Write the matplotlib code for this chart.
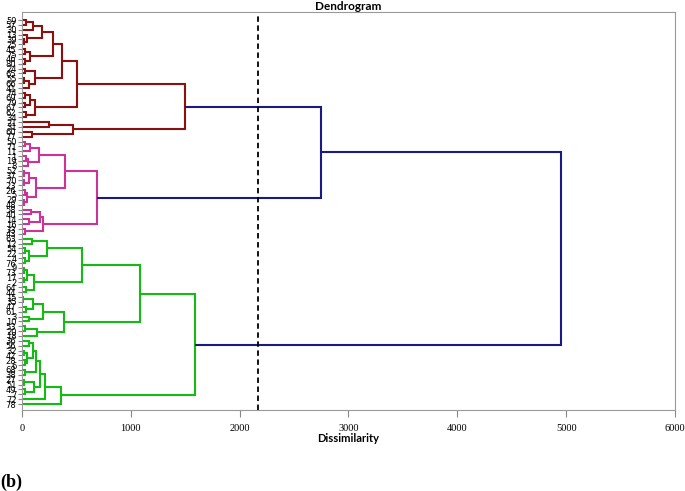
import matplotlib
matplotlib.use("Agg")
import matplotlib.pyplot as plt

# leaf labels, top to bottom
labels = [59, 57, 30, 13, 39, 25, 45, 75, 46, 80, 24, 65, 55, 66, 41, 74, 69, 79, 67, 62, 34, 21, 31, 60, 77,
          50, 71, 11, 1, 19, 8, 52, 37, 70, 23, 26, 5, 29, 48, 58, 40, 14, 16, 33, 43,
          63, 12, 54, 22, 4, 76, 9, 73, 17, 2, 64, 44, 15, 35, 47, 61, 3, 10, 53, 20, 18, 36, 56, 32, 42,
          28, 6, 68, 38, 27, 51, 49, 7, 72, 78]

# merges: (name, left, right, dissimilarity) - ints are leaf rows, strings are earlier merges
red_links = [
    ("r1", 0, 1, 40), ("r2", "r1", 2, 100), ("r3", 4, 5, 20), ("r4", 3, "r3", 50),
    ("r5", "r2", "r4", 180), ("r6", 6, 7, 25), ("r7", 8, 9, 30), ("r8", "r6", "r7", 70),
    ("r9", "r5", "r8", 282), ("r10", 10, 11, 30), ("r11", 12, 13, 20), ("r12", "r11", 14, 60),
    ("r13", "r10", "r12", 120), ("r14", "r9", "r13", 365), ("r15", 15, 16, 30), ("r16", 17, 18, 25),
    ("r17", "r15", "r16", 70), ("r18", 19, 20, 40), ("r19", "r17", "r18", 120), ("r20", "r14", "r19", 505),
    ("r21", 21, 22, 250), ("r22", 23, 24, 90), ("r23", "r21", "r22", 470), ("r24", "r20", "r23", 1500),
]
pink_links = [
    ("p1", 25, 26, 30), ("p2", "p1", 27, 70), ("p3", 28, 29, 40), ("p4", "p3", 30, 55),
    ("p5", "p2", "p4", 160), ("p6", 31, 32, 20), ("p7", 33, 34, 15), ("p8", "p6", "p7", 60),
    ("p9", 35, 36, 25), ("p10", 37, 38, 20), ("p11", "p9", "p10", 50), ("p12", "p8", "p11", 130),
    ("p13", "p5", "p12", 395), ("p14", 39, 40, 80), ("p15", 41, 42, 60), ("p16", "p14", "p15", 170),
    ("p17", 43, 44, 30), ("p18", "p16", "p17", 195), ("p19", "p13", "p18", 690),
]
green_links = [
    ("g1", 45, 46, 90), ("g2", 47, 48, 25), ("g3", 49, 50, 30), ("g4", "g2", "g3", 60),
    ("g5", "g1", "g4", 230), ("g6", 51, 52, 20), ("g7", 53, 54, 15), ("g8", "g6", "g7", 50),
    ("g9", 55, 56, 40), ("g10", "g8", "g9", 110), ("g11", "g5", "g10", 550), ("g12", 57, 58, 5),
    ("g13", 59, 60, 40), ("g14", "g12", "g13", 100), ("g15", 61, 62, 60), ("g16", "g14", "g15", 195),
    ("g17", 63, 64, 30), ("g18", "g17", 65, 140), ("g19", "g16", "g18", 385), ("g20", "g11", "g19", 1085),
    ("g21", 66, 67, 60), ("g22", 68, 69, 15), ("g23", 70, 71, 25), ("g24", "g22", "g23", 50),
    ("g25", "g21", "g24", 100), ("g26", 72, 73, 30), ("g27", "g25", "g26", 130), ("g28", 74, 75, 20),
    ("g29", 76, 77, 30), ("g30", "g28", "g29", 110), ("g31", "g27", "g30", 170), ("g32", "g31", 78, 210),
    ("g33", "g32", 79, 355), ("g34", "g20", "g33", 1590),
]
top_links = [("t1", "r24", "p19", 2750), ("t2", "t1", "g34", 4950)]

cut_level = 2170
x_ticks = [0, 1000, 2000, 3000, 4000, 5000, 6000]

fig = plt.figure(figsize=(6.85, 4.91), dpi=100)
ax = fig.add_axes([0.0321, 0.165, 0.9533, 0.8106])

pos = {i: (0.0, float(i)) for i in range(len(labels))}
for links, col in [(red_links, "#8b1010"), (pink_links, "#cc3399"),
                   (green_links, "#14bb14"), (top_links, "#1a1a85")]:
    for name, a, b, h in links:
        ha, ya = pos[a]
        hb, yb = pos[b]
        ax.plot([ha, h, h, hb], [ya, ya, yb, yb], color=col, lw=1.5,
                solid_joinstyle="miter", solid_capstyle="butt")
        pos[name] = (h, (ya + yb) / 2)

ax.axvline(cut_level, color="black", ls=(0, (3, 2)), lw=1.3)

ax.set_xlim(0, 6000)
ax.set_ylim(len(labels) - 1 + 1.23, -1.65)
ax.set_xticks(x_ticks)
ax.set_xticklabels([str(t) for t in x_ticks], family="Liberation Serif", fontsize=7.5)
ax.set_yticks(range(len(labels)))
ax.set_yticklabels([str(l) for l in labels], fontsize=6)
ax.tick_params(axis="x", length=5, color="#888888", pad=5)
ax.tick_params(axis="y", length=3, color="#888888", pad=1)
for s in ax.spines.values():
    s.set_color("#999999")
    s.set_linewidth(0.8)

ax.set_xlabel("Dissimilarity", family="Lato", fontweight="bold", fontsize=8, labelpad=0)
ax.set_title("Dendrogram", family="Lato", fontweight="bold", fontsize=8.5, pad=1)
fig.text(0.0, 0.008, "(b)", family="Liberation Serif", fontweight="bold", fontsize=13)

fig.savefig("out.png", dpi=100)
